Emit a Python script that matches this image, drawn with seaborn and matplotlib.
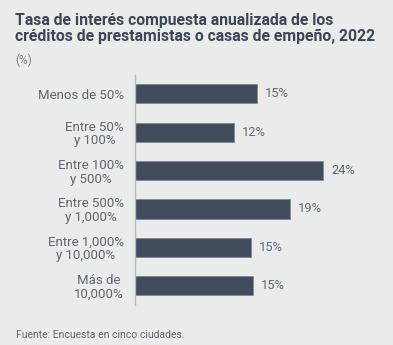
import matplotlib
matplotlib.use("Agg")
import matplotlib.pyplot as plt
import seaborn as sns
import pandas as pd

categories = ["Menos de 50%", "Entre 50%\ny 100%", "Entre 100%\ny 500%",
              "Entre 500%\ny 1,000%", "Entre 1,000%\ny 10,000%", "Más de\n10,000%"]
values = [15.4, 12.5, 23.8, 19.6, 14.7, 14.9]
value_labels = ["15%", "12%", "24%", "19%", "15%", "15%"]

title = "Tasa de interés compuesta anualizada de los\ncréditos de prestamistas o casas de empeño, 2022"
subtitle = "(%)"
source = "Fuente: Encuesta en cinco ciudades."

bg = "#e9ecea"
bar_color = "#414c5c"
text_gray = "#5f6773"

sns.set_theme(style="white")
plt.rcParams["font.family"] = ["Roboto", "DejaVu Sans"]

fig = plt.figure(figsize=(3.93, 3.45), dpi=100, facecolor=bg)
ax = fig.add_axes([135/393, 1 - 304.5/345, (371.7 - 135)/393, 229.5/345])
ax.set_facecolor(bg)

df = pd.DataFrame({"cat": categories, "val": values})
sns.barplot(data=df, x="val", y="cat", color=bar_color, width=0.5,
            edgecolor="#7f8a98", linewidth=0.6, saturation=1, ax=ax)

ax.set_xlim(0, 30)
ax.set_ylim(5.49, -0.49)
ax.set_xlabel("")
ax.set_ylabel("")
ax.set_xticks([])
for s in ["top", "right", "bottom"]:
    ax.spines[s].set_visible(False)
ax.spines["left"].set_color("#b5b9bb")
ax.spines["left"].set_linewidth(1.0)
ax.tick_params(axis="y", length=0, pad=8, labelsize=9.5, labelcolor=text_gray)
for t in ax.get_yticklabels():
    t.set_multialignment("center")
    t.set_linespacing(1.05)

for i, (v, lab) in enumerate(zip(values, value_labels)):
    ax.annotate(lab, xy=(v, i), xytext=(6, 0), textcoords="offset points",
                va="center", ha="left", fontsize=9.3, color=text_gray)

fig.text(15/393, 1 - 13.5/345, title, ha="left", va="top", fontsize=11.3,
         fontweight="bold", color="#3c4654", linespacing=1.05)
fig.text(15/393, 1 - 54/345, subtitle, ha="left", va="top", fontsize=8.5, color="#7a818a")
fig.text(16/393, 1 - 335/345, source, ha="left", va="center", fontsize=7.5, color=text_gray)

fig.savefig("out.png", dpi=100, facecolor=bg)
